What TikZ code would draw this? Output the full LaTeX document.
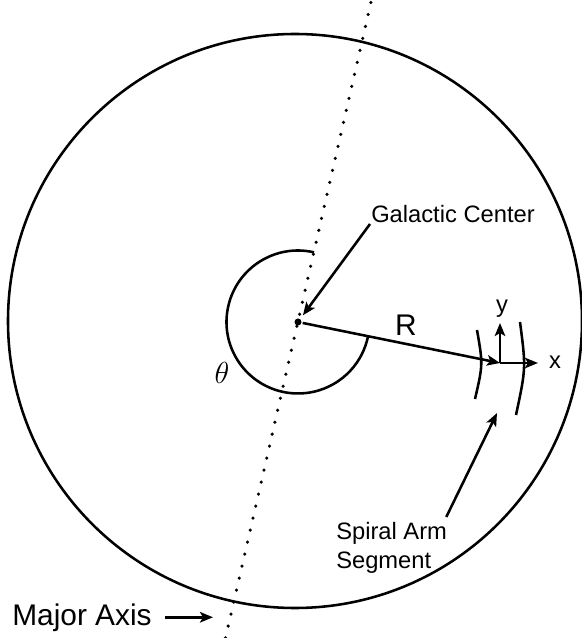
\documentclass[tikz,border=0pt]{standalone}
\usepackage{fontspec}
\setmainfont{Liberation Sans}
\usetikzlibrary{arrows.meta}

\begin{document}
\begin{tikzpicture}[>={Stealth[length=2.6mm,width=2.1mm,inset=0.6mm]}, line width=1.45pt,
    lbl/.style={inner sep=0pt, font=\fontsize{13.5}{16.4}\selectfont},
    biglbl/.style={inner sep=0pt, font=\fontsize{17}{20}\selectfont}]
    \useasboundingbox (-5.96,-6.32) rectangle (5.66,6.44);

    \coordinate (O) at (0,0);
    \coordinate (Atop) at (1.47,6.44);
    \coordinate (Abot) at (-1.45,-6.32);
    \coordinate (S) at (4.04,-0.82);
    \coordinate (Sx) at (4.80,-0.82);
    \coordinate (Sy) at (4.04,-0.02);
    \coordinate (Arm) at (3.98,-1.82);
    \coordinate (Maj) at (-1.70,-5.96);

    \draw (-0.06,0.02) circle (5.74);
    \draw[line width=2pt, line cap=round, dash pattern=on 0pt off 7pt] (Abot) -- (Atop);

    \draw (77:1.43) arc[start angle=77, end angle=348.5, radius=1.43];
    \node[font=\fontsize{19}{21}\selectfont] (theta) at (-1.52,-1.02) {\(\theta\)};

    \node[circle, fill, inner sep=0pt, minimum size=0.14cm] (gc) at (O) {};
    \draw[->] (gc) -- (S);
    \node[biglbl] (R) at (2.16,-0.06) {R};

    \draw (3.58,-0.16) .. controls (3.70,-0.85) .. (3.54,-1.54);
    \draw (4.44,0.0) .. controls (4.56,-0.92) .. (4.36,-1.86);
    \draw[->] (S) -- (Sx);
    \draw[->] (S) -- (Sy);
    \node[lbl] (xl) at (5.14,-0.80) {x};
    \node[lbl] (yl) at (4.08,0.26) {y};

    \node[lbl, anchor=south west] (gclabel) at (1.44,1.96) {Galactic Center};
    \draw[->, shorten >=2pt] (gclabel.south west) -- (gc);

    \node[lbl, align=left, anchor=north west] (arm) at (0.74,-3.98) {Spiral Arm\\Segment};
    \draw[->] ([shift={(-0.04,0.08)}]arm.north east) -- (Arm);

    \node[biglbl, anchor=base east] (major) at (-2.9,-6.06) {Major Axis};
    \draw[->, shorten <=0.24cm] (major.east) -- (major.east -| Maj);
\end{tikzpicture}
\end{document}
